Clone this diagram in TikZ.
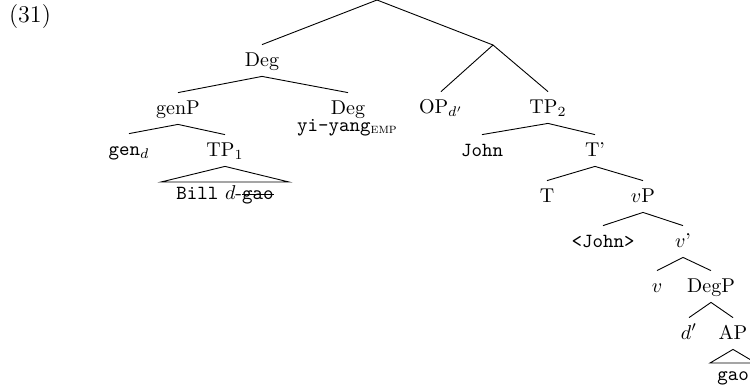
\documentclass[tikz,border=0pt]{standalone}
\usetikzlibrary{calc}
\newlength\strikelen
\newcommand\strk[1]{\settowidth{\strikelen}{#1}\rlap{\rule[0.5ex]{\strikelen}{0.45pt}}#1}
\newcommand\emptag{\raisebox{-1.2pt}{\scriptsize\textsc{emp}}}
\begin{document}
\begin{tikzpicture}[x=1pt,y=1pt,
  lab/.style={anchor=base,inner sep=2.5pt,text height=8pt,text depth=2.5pt,font=\normalsize},
  branch/.style={line width=0.45pt}]
\useasboundingbox (0,0) rectangle (375,-193.5);
\node[anchor=base,font=\large,inner sep=0pt] (num) at (15,-11) {(31)};
\coordinate (root) at (188.5,0);
\coordinate (mid) at (246.5,-22.5);
\node[lab] (deg) at (131,-33) {Deg};
\node[lab] (genP) at (89,-57) {genP};
\node[lab] (deg2) at (174,-57) {Deg};
\node[lab] (yiyang) at (173.5,-65.5) {\texttt{yi-yang}\emptag};
\node[lab] (op) at (220.5,-56.5) {OP$_{d'}$};
\node[lab] (tp2) at (274,-56.5) {TP$_2$};
\node[lab] (gend) at (64.5,-77.5) {\texttt{gen}$_d$};
\node[lab] (tp1) at (112.5,-78) {TP$_1$};
\node[lab] (bill) at (112.5,-99.5) {\texttt{Bill} $d$-\texttt{\strk{gao}}};
\node[lab] (john) at (241,-78) {\texttt{John}};
\node[lab] (tbar) at (297.5,-78) {T'};
\node[lab] (T) at (273.5,-101) {T};
\node[lab] (vp) at (321.5,-101) {$v$P};
\node[lab] (john2) at (301.5,-123.5) {\texttt{<John>}};
\node[lab] (vbar) at (341.5,-123.5) {$v$'};
\node[lab] (v) at (328.5,-146) {$v$};
\node[lab] (degp) at (355.5,-146) {DegP};
\node[lab] (dprime) at (344.5,-169.5) {$d'$};
\node[lab] (ap) at (366.5,-169.5) {AP};
\node[lab] (gao) at (366.5,-190) {\texttt{gao}};
\draw[branch] (deg.north) -- (root) -- (mid);
\draw[branch] (op.north) -- (mid) -- (tp2.north);
\draw[branch] (genP.north) -- (deg.south) -- (deg2.north);
\draw[branch] (gend.north) -- (genP.south) -- (tp1.north);
\draw[branch] (tp1.south) -- ($(bill.base)+(-32,8.5)$) -- ($(bill.base)+(32,8.5)$) -- cycle;
\draw[branch] (john.north) -- (tp2.south) -- (tbar.north);
\draw[branch] (T.north) -- (tbar.south) -- (vp.north);
\draw[branch] (john2.north) -- (vp.south) -- (vbar.north);
\draw[branch] (v.north) -- (vbar.south) -- (degp.north);
\draw[branch] (dprime.north) -- (degp.south) -- (ap.north);
\draw[branch] (ap.south) -- ($(gao.base)+(-11.5,8.5)$) -- ($(gao.base)+(11.5,8.5)$) -- cycle;
\end{tikzpicture}
\end{document}
